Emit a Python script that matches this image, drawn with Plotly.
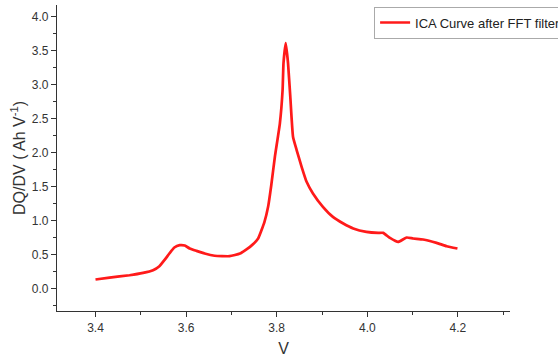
import plotly.graph_objects as go

voltage = [3.400, 3.431, 3.475, 3.505, 3.527, 3.541, 3.552, 3.563, 3.574, 3.586,
           3.597, 3.608, 3.623, 3.641, 3.663, 3.696, 3.719, 3.741, 3.759, 3.773,
           3.781, 3.788, 3.796, 3.807, 3.813, 3.815, 3.820, 3.825, 3.830, 3.836,
           3.844, 3.855, 3.866, 3.880, 3.902, 3.924, 3.947, 3.969, 3.998, 4.024,
           4.035, 4.050, 4.068, 4.087, 4.101, 4.123, 4.153, 4.175, 4.199]
dqdv = [0.133, 0.162, 0.196, 0.230, 0.270, 0.329, 0.417, 0.515, 0.604, 0.638,
        0.633, 0.589, 0.554, 0.515, 0.483, 0.476, 0.515, 0.613, 0.736, 0.981,
        1.202, 1.520, 1.938, 2.430, 2.920, 3.314, 3.608, 3.314, 2.822, 2.233,
        2.037, 1.791, 1.570, 1.399, 1.202, 1.054, 0.957, 0.884, 0.834, 0.819,
        0.819, 0.745, 0.686, 0.751, 0.736, 0.722, 0.672, 0.623, 0.589]

x_ticks = [3.4, 3.6, 3.8, 4.0, 4.2]
y_ticks = [0.0, 0.5, 1.0, 1.5, 2.0, 2.5, 3.0, 3.5, 4.0]

FONT = "Arial, Liberation Sans, sans-serif"

fig = go.Figure()
fig.add_trace(go.Scatter(
    x=voltage, y=dqdv, mode="lines",
    name="ICA Curve after FFT filter",
    line=dict(color="#ff1a1a", width=2.7, shape="spline", smoothing=0.4),
))

fig.update_layout(
    width=558, height=361,
    margin=dict(l=57, r=48, t=5, b=50, autoexpand=False),
    paper_bgcolor="white", plot_bgcolor="white",
    font=dict(family=FONT, color="#333333"),
    showlegend=True,
    legend=dict(
        x=0.70, y=0.995, xanchor="left", yanchor="top",
        bordercolor="#aaaaaa", borderwidth=1, bgcolor="white",
        font=dict(size=13, color="#222222", family=FONT),
        itemwidth=30, tracegroupgap=0,
    ),
    xaxis=dict(
        range=[3.315, 4.315],
        tickvals=x_ticks, ticktext=[f"{v:.1f}" for v in x_ticks],
        showline=True, linecolor="#333333", linewidth=1.3,
        ticks="outside", ticklen=5, tickcolor="#333333", tickwidth=1.3,
        minor=dict(dtick=0.1, tick0=3.3, ticks="outside", ticklen=3,
                   tickcolor="#333333", tickwidth=1.3),
        showgrid=False, zeroline=False,
        tickfont=dict(size=12, color="#333333"),
        title=dict(text="V", font=dict(size=16, color="#333333"), standoff=9),
    ),
    yaxis=dict(
        range=[-0.33, 4.17],
        tickvals=y_ticks, ticktext=[f"{v:.1f}" for v in y_ticks],
        showline=True, linecolor="#333333", linewidth=1.3,
        ticks="outside", ticklen=5, tickcolor="#333333", tickwidth=1.3,
        minor=dict(dtick=0.25, tick0=0, ticks="outside", ticklen=3,
                   tickcolor="#333333", tickwidth=1.3),
        showgrid=False, zeroline=False,
        tickfont=dict(size=12, color="#333333"),
        title=dict(text="DQ/DV ( Ah V<sup>-1</sup>)",
                   font=dict(size=16, color="#333333"), standoff=2),
    ),
)

fig.write_html("out.html")
